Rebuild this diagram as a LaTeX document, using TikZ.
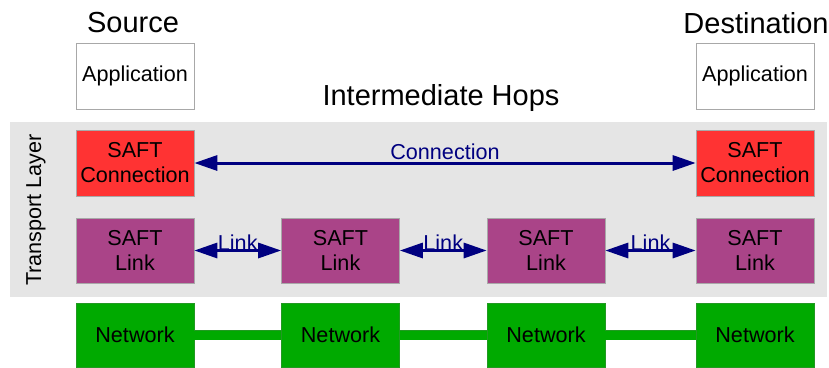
\documentclass[tikz,border=0pt]{standalone}
\usepackage{fontspec}
\setmainfont{Liberation Sans}
\usetikzlibrary{arrows.meta}
\definecolor{bandgray}{HTML}{E5E5E5}
\definecolor{boxedge}{HTML}{A8A8A8}
\definecolor{saftred}{HTML}{FF3333}
\definecolor{saftpurple}{HTML}{AA4488}
\definecolor{netgreen}{HTML}{00AA00}
\definecolor{netedge}{HTML}{229922}
\definecolor{navy}{HTML}{000080}
\tikzset{
  x=1pt, y=-1pt,
  body/.style={font=\fontsize{21.6}{25}\selectfont},
  heading/.style={font=\fontsize{29}{31}\selectfont},
  layerbox/.style={body, draw=boxedge, line width=0.6pt, minimum width=118pt,
    align=center, inner sep=0pt},
  appbox/.style={layerbox, fill=white, minimum height=66pt},
  connbox/.style={layerbox, fill=saftred, minimum height=66pt},
  linkbox/.style={layerbox, fill=saftpurple, minimum height=65pt},
  netbox/.style={layerbox, fill=netgreen, draw=netedge, minimum height=64pt},
  duplex/.style={navy, line width=3pt,
    {Triangle[length=23pt,width=15pt]}-{Triangle[length=23pt,width=15pt]}},
  arrowlabel/.style={body, text=navy, inner sep=1pt},
  netbar/.style={draw=netedge, line width=0.6pt, double=netgreen, double distance=9pt}
}
\begin{document}
\begin{tikzpicture}
\useasboundingbox (0,0) rectangle (829,367);
\clip (0,0) rectangle (829,367);

% transport layer band
\fill[bandgray] (10,122) rectangle (827,297);
\node[body, rotate=90] (tl) at (36,210) {Transport Layer};

% headings
\node[heading] (src) at (133,23) {Source};
\node[heading] (dst) at (756,23) {Destination};
\node[heading] (hops) at (441,98) {Intermediate Hops};

% application layer
\node[appbox] (a1) at (135,76) {\raisebox{-2pt}{Application}};
\node[appbox] (a2) at (755,76) {\raisebox{-2pt}{Application}};

% SAFT connections
\node[connbox] (c1) at (135,163) {SAFT\\Connection};
\node[connbox] (c2) at (755,163) {SAFT\\Connection};

% SAFT links
\node[linkbox] (l1) at (135,250.5) {SAFT\\Link};
\node[linkbox] (l2) at (340.5,250.5) {SAFT\\Link};
\node[linkbox] (l3) at (546,250.5) {SAFT\\Link};
\node[linkbox] (l4) at (755,250.5) {SAFT\\Link};

% network hops
\node[netbox] (n1) at (135,335) {\raisebox{-2pt}{Network}};
\node[netbox] (n2) at (340.5,335) {\raisebox{-2pt}{Network}};
\node[netbox] (n3) at (546,335) {\raisebox{-2pt}{Network}};
\node[netbox] (n4) at (755,335) {\raisebox{-2pt}{Network}};

% network links
\draw[netbar] (n1.east) -- (n2.west);
\draw[netbar] (n2.east) -- (n3.west);
\draw[netbar] (n3.east) -- (n4.west);

% end-to-end connection
\draw[duplex] (c1.east) -- node[arrowlabel, anchor=south, yshift=1pt] {Connection} (c2.west);

% hop-by-hop links
\draw[duplex] (l1.east) -- node[arrowlabel, anchor=south, yshift=-2pt] {Link} (l2.west);
\draw[duplex] (l2.east) -- node[arrowlabel, anchor=south, yshift=-2pt] {Link} (l3.west);
\draw[duplex] (l3.east) -- node[arrowlabel, anchor=south, yshift=-2pt] {Link} (l4.west);
\end{tikzpicture}
\end{document}
